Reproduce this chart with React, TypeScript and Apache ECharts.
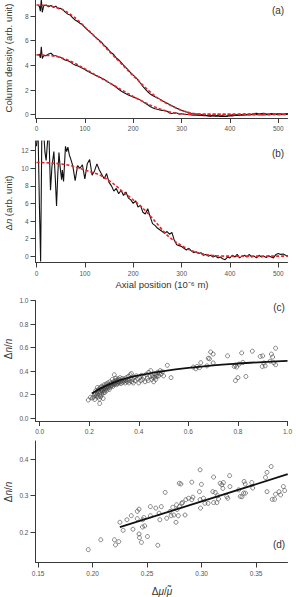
import React, { useEffect, useRef } from "react";
import * as echarts from "echarts";

const FONT = "'Liberation Sans', Arial, Helvetica, sans-serif";

// ---------- Panel (a): column density profiles ----------
const posA = [3, 6, 8, 10, 12,
  15, 20, 25, 30, 35, 40, 45, 50, 55, 60,
  65, 70, 75, 80, 85, 90, 95, 100, 105, 110,
  115, 120, 125, 130, 135, 140, 145, 150, 155, 160,
  165, 170, 175, 180, 185, 190, 195, 200, 205, 210,
  215, 220, 225, 230, 235, 240, 245, 250, 255, 260,
  265, 270, 275, 280, 285, 290, 295, 300, 305, 310,
  315, 320, 325, 330, 335, 340, 345, 350, 355, 360,
  365, 370, 375, 380, 385, 390, 395, 400, 405, 410,
  415, 420, 425, 430, 435, 440, 445, 450, 455, 460,
  465, 470, 475, 480, 485, 490, 495, 500, 505, 510,
  515, 520];
const aUpper = [8.85, 8.8, 8.4, 9.35, 8.3,
  8.85, 8.9, 8.75, 8.85, 8.7, 8.8, 8.6, 8.62, 8.5, 8.3,
  8.15, 8.08, 7.85, 7.68, 7.55, 7.42, 7.3, 7.08, 6.9, 6.72,
  6.55, 6.35, 6.18, 6.02, 5.85, 5.62, 5.45, 5.22, 5.02, 4.86,
  4.6, 4.45, 4.25, 4.02, 3.82, 3.62, 3.38, 3.2, 3.02, 2.82,
  2.55, 2.3, 2.08, 1.86, 1.68, 1.55, 1.45, 1.36, 1.26, 1.14,
  1.02, 0.92, 0.82, 0.72, 0.62, 0.52, 0.43, 0.35, 0.28, 0.22,
  0.16, 0.12, 0.09, 0.06, 0.05, 0.02, -0.02, -0.06, -0.08, -0.1,
  -0.06, -0.1, -0.04, -0.12, -0.1, -0.14, -0.1, -0.05, 0.0, 0.02,
  -0.02, 0.03, 0.0, 0.05, 0.02, 0.06, 0.04, 0.1, 0.12, 0.08,
  0.1, 0.12, 0.08, 0.05, 0.1, 0.08, 0.06, 0.1, 0.08, 0.04,
  0.08, 0.1];
const aLower = [4.85, 4.9, 4.6, 5.5, 4.55,
  4.8, 4.78, 4.92, 4.98, 4.8, 4.78, 4.7, 4.66, 4.52, 4.42,
  4.38, 4.28, 4.12, 4.02, 3.96, 3.86, 3.76, 3.66, 3.55, 3.44,
  3.34, 3.24, 3.14, 3.05, 2.96, 2.86, 2.74, 2.6, 2.48, 2.36,
  2.22, 2.06, 1.92, 1.8, 1.7, 1.6, 1.52, 1.44, 1.36, 1.28,
  1.18, 1.06, 0.92, 0.8, 0.66, 0.56, 0.48, 0.44, 0.38, 0.35,
  0.32, 0.28, 0.14, 0.1, 0.16, 0.14, 0.06, 0.08, 0.04, 0.02,
  0.04, -0.02, -0.04, -0.02, -0.06, -0.04, -0.08, -0.06, -0.1, -0.12,
  -0.08, -0.12, -0.1, -0.14, -0.12, -0.15, -0.12, -0.08, -0.1, -0.06,
  -0.04, -0.06, -0.02, -0.04, 0.0, -0.02, 0.0, 0.02, 0.0, 0.02,
  -0.02, 0.0, 0.02, 0.0, 0.02, 0.04, 0.02, 0.0, 0.02, 0.04,
  0.02, 0.02];

const posFit = [0, 10, 20, 30, 40, 50, 60, 70, 80, 90,
  100, 110, 120, 130, 140, 150, 160, 170, 180, 190,
  200, 210, 220, 230, 240, 250, 260, 270, 280, 290,
  300, 310, 320, 330, 340, 350, 360, 370, 380, 390,
  400, 410, 420, 430, 440, 450, 460, 470, 480, 490,
  500, 510, 520];
const fitUpper = [8.9, 8.88, 8.85, 8.8, 8.7, 8.58, 8.4, 8.15, 7.85, 7.5,
  7.1, 6.75, 6.37, 5.98, 5.57, 5.15, 4.75, 4.35, 3.95, 3.55,
  3.15, 2.78, 2.4, 2.02, 1.68, 1.37, 1.12, 0.9, 0.7, 0.52,
  0.36, 0.23, 0.13, 0.07, 0.04, 0.02, 0.02, 0.02, 0.02, 0.02,
  0.02, 0.02, 0.02, 0.02, 0.02, 0.02, 0.02, 0.02, 0.02, 0.02,
  0.02, 0.02, 0.02];
const fitLower = [4.85, 4.84, 4.82, 4.78, 4.72, 4.63, 4.5, 4.34, 4.15, 3.94,
  3.72, 3.5, 3.27, 3.04, 2.82, 2.6, 2.38, 2.15, 1.92, 1.7,
  1.48, 1.27, 1.07, 0.88, 0.7, 0.54, 0.4, 0.28, 0.18, 0.11,
  0.06, 0.03, 0.02, 0.02, 0.02, 0.02, 0.02, 0.02, 0.02, 0.02,
  0.02, 0.02, 0.02, 0.02, 0.02, 0.02, 0.02, 0.02, 0.02, 0.02,
  0.02, 0.02, 0.02];

// ---------- Panel (b): Δn profile ----------
const posB = [0, 2, 3.5, 6, 8.6, 11, 13, 15, 17.6, 20,
  22, 24.4, 26, 29, 32, 36, 39, 41.5, 44, 46.5,
  49, 52, 53.5, 56, 60, 62.5, 65, 68, 70,
  75, 80, 85, 90, 95, 100, 105, 110, 115, 120,
  125, 130, 135, 140, 145, 150, 155, 160, 165, 170,
  175, 180, 185, 190, 195, 200, 205, 210, 215, 220,
  225, 230, 235, 240, 245, 250, 255, 260, 265, 270,
  275, 280, 285, 290, 295, 300, 305, 310, 315, 320,
  325, 330, 335, 340, 345, 350, 355, 360, 365, 370,
  375, 380, 385, 390, 395, 400, 405, 410, 415, 420,
  425, 430, 435, 440, 445, 450, 455, 460, 465, 470,
  475, 480, 485, 490, 495, 500, 505, 510, 515, 520];
const valB = [12.5, 14, 13.5, 6, -0.6, 13.5, 14.5, 14, 11.8, 10.9,
  12.4, 14, 13.4, 7.5, 10.2, 11.9, 8.8, 5.7, 9.2, 11.8,
  10.1, 8.7, 9.8, 8.5, 12.5, 11.9, 12.4, 11.5, 11.2,
  10.3, 8.6, 10.3, 10.0, 10.4, 8.8, 10.5, 11.0, 9.2, 9.7,
  10.5, 9.8, 9.3, 8.8, 9.4, 8.4, 8.0, 7.4, 7.7, 7.1,
  7.5, 6.9, 7.3, 6.6, 6.4, 6.0, 6.3, 5.6, 5.8, 5.0,
  4.8, 5.4, 4.5, 3.7, 3.5, 3.2, 3.0, 2.8, 2.6, 2.8,
  2.5, 2.7, 1.8, 1.3, 1.2, 1.1, 0.9, 0.7, 0.9, 0.6,
  0.4, 0.5, 0.3, 0.4, 0.1, 0.2, 0.0, 0.1, -0.1, 0.05,
  -0.2, -0.1, -0.3, -0.4, -0.1, -0.2, 0.1, -0.1, 0.2, -0.2,
  0.0, 0.1, -0.1, 0.2, -0.1, 0.0, -0.2, 0.1, -0.1, 0.0,
  -0.15, 0.05, -0.1, -0.2, 0.2, 0.3, 0.2, 0.25, 0.1, 0.05];
const fitB = [10.65, 10.65, 10.62, 10.6, 10.56, 10.5, 10.42, 10.3, 10.15, 9.98,
  9.8, 9.62, 9.45, 9.25, 8.95, 8.6, 8.2, 7.75, 7.25, 6.85,
  6.4, 5.95, 5.45, 4.9, 4.3, 3.65, 3.0, 2.4, 1.95, 1.55,
  1.2, 0.9, 0.65, 0.45, 0.3, 0.18, 0.1, 0.05, 0.02, 0,
  0, 0, 0, 0, 0, 0, 0, 0, 0, 0,
  0, 0, 0];

// ---------- Panel (c): Δn/n vs Δμ/μ ----------
const scatterC = [
  [0.196, 0.155], [0.205, 0.178], [0.212, 0.172], [0.218, 0.18], [0.222, 0.16], [0.222, 0.2], [0.225, 0.21],
  [0.226, 0.234], [0.228, 0.19], [0.23, 0.222], [0.232, 0.205], [0.233, 0.262], [0.235, 0.24], [0.236, 0.18],
  [0.238, 0.226], [0.24, 0.25], [0.241, 0.163], [0.242, 0.126], [0.243, 0.198], [0.245, 0.26], [0.246, 0.183],
  [0.247, 0.22], [0.248, 0.24], [0.25, 0.272], [0.25, 0.205], [0.252, 0.245], [0.253, 0.232], [0.255, 0.265],
  [0.256, 0.168], [0.257, 0.215], [0.258, 0.25], [0.26, 0.285], [0.261, 0.235], [0.262, 0.26], [0.263, 0.22],
  [0.265, 0.27], [0.266, 0.248], [0.268, 0.29], [0.27, 0.26], [0.271, 0.238], [0.273, 0.275], [0.275, 0.3],
  [0.276, 0.255], [0.278, 0.27], [0.28, 0.285], [0.281, 0.245], [0.283, 0.31], [0.285, 0.265], [0.286, 0.29],
  [0.288, 0.275], [0.29, 0.3], [0.291, 0.282], [0.293, 0.33], [0.295, 0.27], [0.296, 0.295], [0.298, 0.31],
  [0.3, 0.285], [0.301, 0.37], [0.302, 0.3], [0.304, 0.318], [0.305, 0.292], [0.307, 0.34], [0.308, 0.305],
  [0.31, 0.285], [0.312, 0.322], [0.313, 0.31], [0.315, 0.295], [0.316, 0.335], [0.318, 0.312], [0.32, 0.3],
  [0.322, 0.325], [0.324, 0.345], [0.326, 0.31], [0.328, 0.295], [0.33, 0.32], [0.333, 0.338], [0.335, 0.305],
  [0.338, 0.325], [0.34, 0.315], [0.343, 0.335], [0.345, 0.3], [0.348, 0.322], [0.35, 0.345], [0.353, 0.31],
  [0.356, 0.33], [0.358, 0.355], [0.36, 0.3], [0.362, 0.32], [0.365, 0.37], [0.367, 0.34], [0.37, 0.38],
  [0.372, 0.31], [0.375, 0.33], [0.378, 0.3], [0.382, 0.35], [0.385, 0.32], [0.39, 0.36], [0.395, 0.335],
  [0.4, 0.3], [0.403, 0.345], [0.408, 0.32], [0.41, 0.365], [0.415, 0.33], [0.42, 0.35], [0.425, 0.31],
  [0.43, 0.375], [0.435, 0.34], [0.438, 0.32], [0.44, 0.39], [0.445, 0.355], [0.448, 0.405], [0.452, 0.33],
  [0.455, 0.36], [0.458, 0.345], [0.46, 0.31], [0.462, 0.38], [0.465, 0.35], [0.468, 0.33], [0.47, 0.37],
  [0.473, 0.355], [0.476, 0.39], [0.48, 0.36], [0.483, 0.385], [0.486, 0.405], [0.49, 0.375], [0.495, 0.395],
  [0.5, 0.36], [0.515, 0.45], [0.53, 0.345],
  [0.62, 0.435], [0.63, 0.42], [0.635, 0.44], [0.645, 0.43], [0.65, 0.472], [0.675, 0.445], [0.68, 0.51],
  [0.685, 0.505], [0.69, 0.563], [0.7, 0.545], [0.7, 0.47], [0.758, 0.53], [0.785, 0.44], [0.79, 0.45],
  [0.795, 0.435], [0.79, 0.32], [0.8, 0.345], [0.805, 0.46], [0.815, 0.555], [0.82, 0.475], [0.832, 0.355],
  [0.858, 0.57], [0.89, 0.525], [0.9, 0.53], [0.898, 0.44], [0.905, 0.47], [0.91, 0.445], [0.935, 0.545],
  [0.94, 0.52], [0.945, 0.47], [0.952, 0.595], [0.952, 0.455], [0.93, 0.485]
];
const fitCx = [0.21, 0.25, 0.3, 0.35, 0.4, 0.5, 0.6, 0.7, 0.8, 0.9, 1.0];
const fitCy = [0.21, 0.258, 0.305, 0.34, 0.365, 0.4, 0.428, 0.45, 0.465, 0.477, 0.487];

// ---------- Panel (d) ----------
const scatterD = [
  [0.196, 0.152], [0.2075, 0.179], [0.22, 0.179], [0.221, 0.165], [0.224, 0.174], [0.225, 0.227],
  [0.228, 0.205], [0.2315, 0.234], [0.2355, 0.245], [0.237, 0.208], [0.241, 0.257], [0.2426, 0.263],
  [0.241, 0.237], [0.2426, 0.195], [0.243, 0.185], [0.2457, 0.214], [0.246, 0.234], [0.247, 0.24],
  [0.2448, 0.172], [0.2478, 0.217], [0.2503, 0.188], [0.253, 0.245], [0.253, 0.27], [0.258, 0.266],
  [0.2598, 0.164], [0.261, 0.252], [0.2617, 0.234], [0.263, 0.27], [0.2666, 0.309], [0.268, 0.238],
  [0.271, 0.257], [0.272, 0.245], [0.2735, 0.268], [0.2746, 0.247], [0.2765, 0.227], [0.277, 0.275],
  [0.2775, 0.262], [0.2786, 0.245], [0.2795, 0.334], [0.281, 0.332], [0.2798, 0.27], [0.2817, 0.279],
  [0.2825, 0.281], [0.2848, 0.247], [0.2855, 0.289], [0.288, 0.293], [0.291, 0.337], [0.291, 0.289],
  [0.292, 0.296], [0.298, 0.311], [0.2986, 0.371], [0.2986, 0.289], [0.2998, 0.331], [0.299, 0.266],
  [0.3017, 0.293], [0.303, 0.279], [0.306, 0.279], [0.3103, 0.311], [0.311, 0.351], [0.311, 0.281],
  [0.3125, 0.309], [0.314, 0.281], [0.3146, 0.3], [0.3155, 0.291], [0.317, 0.334], [0.3186, 0.33],
  [0.3195, 0.32], [0.32, 0.336], [0.323, 0.298], [0.324, 0.293], [0.3257, 0.355], [0.326, 0.325],
  [0.334, 0.316], [0.3355, 0.298], [0.337, 0.297], [0.3386, 0.307], [0.339, 0.339], [0.34, 0.332],
  [0.3402, 0.307], [0.346, 0.336], [0.3469, 0.321], [0.3586, 0.35], [0.36, 0.364], [0.36, 0.311],
  [0.3638, 0.38], [0.3648, 0.29], [0.367, 0.29], [0.3678, 0.304], [0.371, 0.311], [0.3725, 0.302],
  [0.375, 0.325], [0.3762, 0.314], [0.379, 0.318]
];
const fitDx = [0.225, 0.379];
const fitDy = [0.2135, 0.359];

// ---------- tick values ----------
const ticksAxial = [0, 100, 200, 300, 400, 500];
const ticksA = [0, 2, 4, 6, 8];
const ticksB = [0, 2, 4, 6, 8, 10, 12];
const ticksC = [0, 0.2, 0.4, 0.6, 0.8, 1.0];
const ticksDx = [0.15, 0.2, 0.25, 0.3, 0.35];
const ticksDy = [0.2, 0.3, 0.4];

const pair = (xs: number[], ys: number[]) => xs.map((x, i) => [x, ys[i]]);

const AX = "#3a3a3a";
const LAB = "#555";

function axis(gridIndex: number, min: number, max: number, ticks: number[], fmt: (v: number) => string) {
  return {
    type: "value",
    gridIndex,
    min,
    max,
    axisLine: { show: true, onZero: false, lineStyle: { color: AX, width: 1 } },
    axisTick: { show: true, length: 5, customValues: ticks, lineStyle: { color: AX, width: 1 } },
    axisLabel: { show: true, customValues: ticks, formatter: fmt, fontSize: 6.5, color: LAB, margin: 7, fontFamily: FONT },
    splitLine: { show: false },
  };
}

const f0 = (v: number) => String(Math.round(v));
const f1 = (v: number) => v.toFixed(1);
const f2 = (v: number) => v.toFixed(2);

function txt(x: number, y: number, text: string, size: number, rot = 0, rich?: any) {
  return {
    type: "text",
    x,
    y,
    rotation: rot,
    style: {
      text,
      fontSize: size,
      fontFamily: FONT,
      fill: "#333",
      align: "center",
      verticalAlign: "middle",
      textAlign: "center",
      textVerticalAlign: "middle",
      rich,
    },
  };
}

const rich = (size: number) => ({
  r: { fontSize: size, fontFamily: FONT, fill: "#333", color: "#333" },
  i: { fontSize: size, fontFamily: FONT, fontStyle: "italic", fill: "#333", color: "#333" },
});

export default function App() {
  const ref = useRef<HTMLDivElement>(null);
  useEffect(() => {
    const chart = echarts.init(ref.current!, null, { renderer: "svg" });
    const blackLine = { color: "#111", width: 1.1 };
    const redLine = { color: "#e8262b", width: 1.6, type: [3, 2] };
    chart.setOption({
      animation: false,
      grid: [
        { left: 35.5, top: 0, width: 252, height: 118 },
        { left: 35.5, top: 141, width: 252, height: 121.5 },
        { left: 35.5, top: 300.5, width: 252, height: 120.5 },
        { left: 35.5, top: 441, width: 252, height: 121.5 },
      ],
      xAxis: [
        axis(0, -2, 519, ticksAxial, f0),
        axis(1, -2, 519, ticksAxial, f0),
        axis(2, -0.017, 1.0, ticksC, f1),
        axis(3, 0.1476, 0.3788, ticksDx, f2),
      ],
      yAxis: [
        axis(0, -0.27, 9.3, ticksA, f0),
        axis(1, -0.72, 13.1, ticksB, f0),
        axis(2, -0.023, 1.0, ticksC, f1),
        axis(3, 0.1167, 0.45, ticksDy, f1),
      ],
      series: [
        { type: "line", xAxisIndex: 0, yAxisIndex: 0, data: pair(posA, aUpper), showSymbol: false, lineStyle: blackLine },
        { type: "line", xAxisIndex: 0, yAxisIndex: 0, data: pair(posA, aLower), showSymbol: false, lineStyle: blackLine },
        { type: "line", xAxisIndex: 0, yAxisIndex: 0, data: pair(posFit, fitUpper), showSymbol: false, smooth: 0.3, lineStyle: redLine },
        { type: "line", xAxisIndex: 0, yAxisIndex: 0, data: pair(posFit, fitLower), showSymbol: false, smooth: 0.3, lineStyle: redLine },
        { type: "line", xAxisIndex: 1, yAxisIndex: 1, data: pair(posB, valB), showSymbol: false, lineStyle: blackLine, clip: true },
        { type: "line", xAxisIndex: 1, yAxisIndex: 1, data: pair(posFit, fitB), showSymbol: false, smooth: 0.3, lineStyle: redLine },
        {
          type: "scatter", xAxisIndex: 2, yAxisIndex: 2, data: scatterC, symbol: "circle", symbolSize: 4,
          itemStyle: { color: "rgba(0,0,0,0)", borderColor: "#444", borderWidth: 0.8 },
        },
        { type: "line", xAxisIndex: 2, yAxisIndex: 2, data: pair(fitCx, fitCy), showSymbol: false, smooth: 0.4, lineStyle: { color: "#111", width: 1.8 } },
        {
          type: "scatter", xAxisIndex: 3, yAxisIndex: 3, data: scatterD, symbol: "circle", symbolSize: 4,
          itemStyle: { color: "rgba(0,0,0,0)", borderColor: "#444", borderWidth: 0.8 },
        },
        { type: "line", xAxisIndex: 3, yAxisIndex: 3, data: pair(fitDx, fitDy), showSymbol: false, lineStyle: { color: "#111", width: 1.8 } },
      ],
      graphic: [
        txt(8.5, 58, "Column density (arb. unit)", 9.5, Math.PI / 2),
        txt(8.5, 203, "{r|Δ}{i|n}{r| (arb. unit)}", 9.5, Math.PI / 2, rich(9.5)),
        txt(162, 284, "Axial position (10⁻⁶ m)", 9.5),
        txt(8.5, 349, "{r|Δ}{i|n}{r|/}{i|n}", 10, Math.PI / 2, rich(10)),
        txt(8.5, 492, "{r|Δ}{i|n}{r|/}{i|n}", 10, Math.PI / 2, rich(10)),
        txt(162, 591, "{r|Δ}{i|μ}{r|/}{i|μ̃}", 10, 0, rich(10)),
        txt(278, 10, "(a)", 10),
        txt(278, 153, "(b)", 10),
        txt(279, 307, "(c)", 10),
        txt(279, 544, "(d)", 10),
      ],
    });
    return () => chart.dispose();
  }, []);
  return <div ref={ref} style={{ position: "absolute", left: 0, top: 0, width: 296, height: 597 }} />;
}
